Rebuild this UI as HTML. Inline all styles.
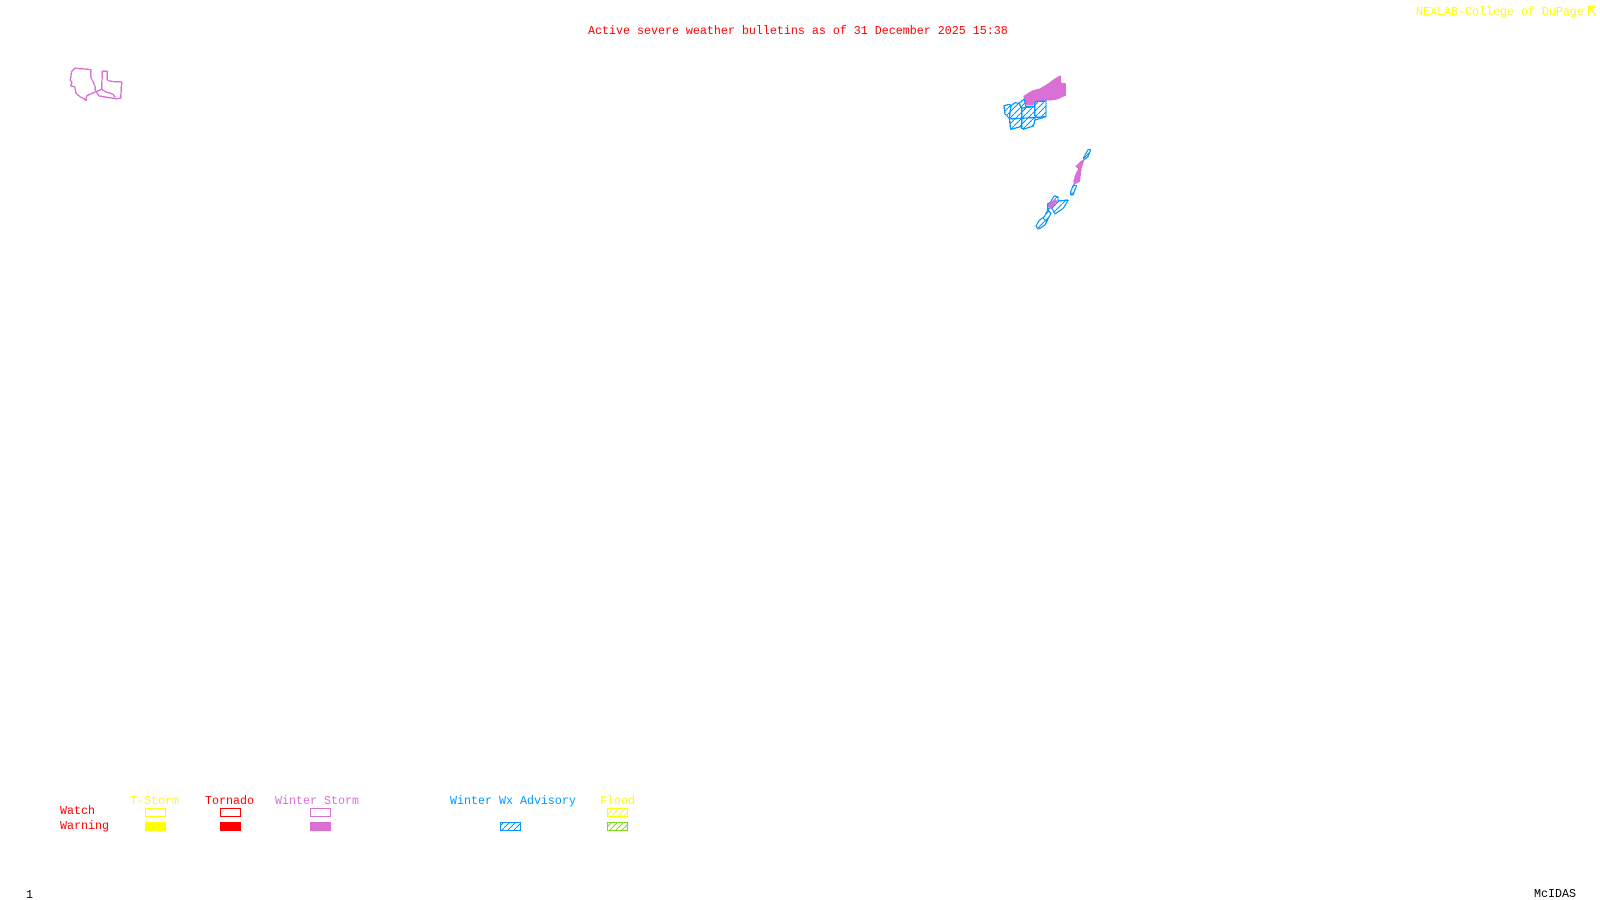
<!DOCTYPE html>
<html><head><meta charset="utf-8"><style>
html,body{margin:0;padding:0;background:#fff;width:1600px;height:900px;overflow:hidden}
svg{display:block}
text{font-family:"Liberation Mono",monospace;font-size:11.67px}
path,rect{shape-rendering:crispEdges}
</style></head><body>
<svg width="1600" height="900" viewBox="0 0 1600 900" xmlns="http://www.w3.org/2000/svg">
<defs>
<pattern id="hb" width="6" height="6" patternUnits="userSpaceOnUse"><path d="M-1 7L7 -1" stroke="#0099ff" stroke-width="1"/></pattern>
<pattern id="hy" width="6" height="6" patternUnits="userSpaceOnUse"><path d="M-1 7L7 -1" stroke="#ffff00" stroke-width="1"/></pattern>
<pattern id="hg" width="6" height="6" patternUnits="userSpaceOnUse"><path d="M-1 7L7 -1" stroke="#7fd81a" stroke-width="1"/></pattern>
</defs>
<text x="588" y="34" fill="#ff0000">Active severe weather bulletins as of 31 December 2025 15:38</text>
<text x="1416" y="15" fill="#ffff00">NEXLAB-College of DuPage</text>
<path d="M1588.5 15.5V6.5H1595.5M1589 7L1596 15.5M1589 11.5L1592.5 8" fill="none" stroke="#ffff00" stroke-width="1.2"/>

<g fill="none" stroke="#da70d6" stroke-width="1.4" stroke-linejoin="bevel">
<path d="M75 68.3L81.7 68.7L90.7 69.7L90.7 76.7L95 86L95.7 91.7L86.7 95.7L86 100.7L84.3 99L80 96.7L76 93.3L74.7 86.7L70.7 86L72 82.3L70.3 80L71.7 71.7Z"/>
<path d="M101.7 89.3L102.3 71.3L107.3 71.3L107.3 80L110 81.3L121.7 82L120.7 98.3L116 98.7L106.7 97.3L99.3 96L96 91.7L101.7 89.3L106 92L112.7 94L115.3 97.3"/>
</g>

<path d="M1023.3 96L1031.7 90.7L1040 88.3L1048.3 83.3L1055 78.3L1060.7 75L1061.3 82.7L1066 83.3L1066 95.7L1056 100L1046.7 100.7L1035 101.7L1033.3 105.7L1026.7 105.7Z" fill="#da70d6"/>
<g fill="url(#hb)" stroke="#0099ff" stroke-width="1.3" stroke-linejoin="bevel">
<path d="M1004 105.7L1009.3 104.3L1011 105.7L1015 102.7L1019 103.3L1024.3 99L1026 106.7L1034.7 106.7L1035 101.7L1046 101L1046 116.7L1035 120L1033.3 126L1023.3 129.3L1020.7 126.7L1010.7 129.3L1009.3 118.3L1005 114Z"/>
<path d="M1009.3 119L1021.7 118.3L1046 116.7M1021.7 108L1021.7 129M1034.7 106.7L1035 120M1011 105.7L1009.3 118.3M1019 103.3L1021.7 108L1034.7 106.7" fill="none"/>
</g>

<g fill="url(#hb)" stroke="#0099ff" stroke-width="1.2" stroke-linejoin="bevel">
<path d="M1088.3 149.3L1090.7 150L1088.3 156L1085 159.3L1083.3 158.3Z"/>
<path d="M1073.3 185L1076.7 185.7L1074 191.7L1073.3 195L1070.7 195L1070.7 191.7Z"/>
<path d="M1047.7 204L1051 201.7L1051.7 200L1054.3 196L1057.7 196.7L1058.3 201L1068.3 200L1063.3 208.3L1055 214L1051 206.7L1047.7 210L1051 213.3L1048.3 218.3L1045 225L1038.3 229.3L1036 226L1039 220.7L1044.3 216.7L1047.7 210Z"/>
<path d="M1047.7 204L1047.7 210M1043 218L1047 222M1051 206.7L1055 214" fill="none"/>
</g>
<path d="M1085 158.3L1083.3 163.3L1081.7 168.3L1081 173.3L1080 181.7L1073.3 185L1073.3 181.7L1075 175L1078.3 168.3L1075 166.7L1080 161.7Z" fill="#da70d6"/>
<path d="M1047.7 205L1055 198.3L1057.7 201.7L1050 209.3Z" fill="#da70d6"/>

<text x="130" y="804" fill="#ffff00">T-Storm</text>
<text x="205" y="804" fill="#ff0000">Tornado</text>
<text x="275" y="804" fill="#da70d6">Winter Storm</text>
<text x="450" y="804" fill="#0099ff">Winter Wx Advisory</text>
<text x="600" y="804" fill="#ffff00">Flood</text>
<text x="60" y="814" fill="#ff0000">Watch</text>
<text x="60" y="829" fill="#ff0000">Warning</text>

<rect x="145.5" y="808.5" width="20" height="8" fill="none" stroke="#ffff00"/>
<rect x="145" y="822" width="21" height="9" fill="#ffff00"/>
<rect x="220.5" y="808.5" width="20" height="8" fill="none" stroke="#ff0000"/>
<rect x="220" y="822" width="21" height="9" fill="#ff0000"/>
<rect x="310.5" y="808.5" width="20" height="8" fill="none" stroke="#da70d6"/>
<rect x="310" y="822" width="21" height="9" fill="#da70d6"/>
<rect x="500.5" y="822.5" width="20" height="8" fill="url(#hb)" stroke="#0099ff"/>
<rect x="607.5" y="808.5" width="20" height="8" fill="url(#hy)" stroke="#ffff00"/>
<rect x="607.5" y="822.5" width="20" height="8" fill="url(#hg)" stroke="#7fd81a"/>

<text x="26" y="898" fill="#000">1</text>
<text x="1534" y="897" fill="#000">McIDAS</text>
</svg>
</body></html>
